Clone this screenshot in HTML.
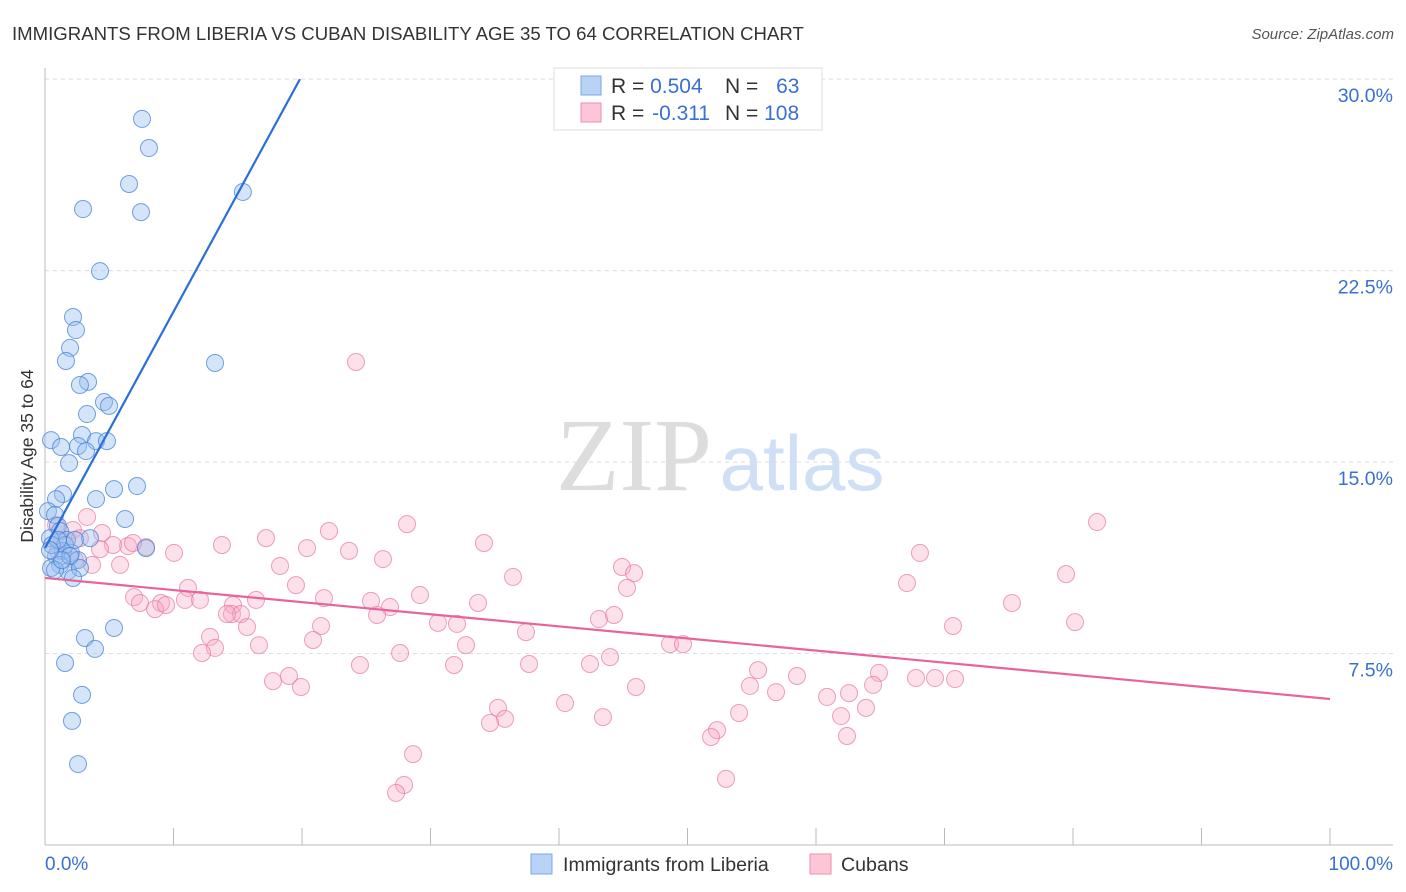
<!DOCTYPE html>
<html><head><meta charset="utf-8"><style>
body{margin:0;background:#fff;font-family:"Liberation Sans",sans-serif;}
svg{display:block}
</style></head><body>
<svg id="chart" width="1406" height="892" xmlns="http://www.w3.org/2000/svg" font-family="Liberation Sans, sans-serif">
<text x="12" y="40" font-size="18.6" fill="#333">IMMIGRANTS FROM LIBERIA VS CUBAN DISABILITY AGE 35 TO 64 CORRELATION CHART</text>
<text x="1394" y="39" font-size="15" fill="#555" font-style="italic" text-anchor="end">Source: ZipAtlas.com</text>
<g>
<text x="634" y="490" font-size="104" fill="#ddd" font-family="Liberation Serif, serif" text-anchor="middle">ZIP</text>
<text x="802" y="490" font-size="78" fill="#cfdff5" text-anchor="middle">atlas</text>
</g>
<g id="grid"></g>
<g id="axes"></g>
<g id="marks"></g>
<text transform="translate(33,456) rotate(-90)" font-size="17.5" fill="#333" text-anchor="middle">Disability Age 35 to 64</text>
<g>
<rect x="554" y="68" width="268" height="62" fill="#fff" stroke="#ddd"/>
<rect x="581" y="76" width="20" height="19" fill="#b8d3f5" stroke="#7aa7e4"/>
<rect x="581" y="103" width="20" height="19" fill="#fcc6d6" stroke="#ea8fae"/>
<text x="611" y="93" font-size="21" fill="#333">R = <tspan fill="#3b6fd4">0.504</tspan></text>
<text x="725" y="93" font-size="21" fill="#333">N = <tspan fill="#3b6fd4" dx="12">63</tspan></text>
<text x="611" y="120" font-size="21" fill="#333">R = <tspan fill="#3b6fd4" dx="2">-0.311</tspan></text>
<text x="725" y="120" font-size="21" fill="#333">N = <tspan fill="#3b6fd4">108</tspan></text>
</g>
<g>
<rect x="531" y="854" width="21" height="20" fill="#b8d3f5" stroke="#7aa7e4"/>
<text x="563" y="871" font-size="19.6" fill="#333">Immigrants from Liberia</text>
<rect x="810" y="854" width="21" height="20" fill="#fcc6d6" stroke="#ea8fae"/>
<text x="841" y="871" font-size="19.6" fill="#333">Cubans</text>
</g>
</svg>
<script>
const yTicks=[7.5,15,22.5,30];
const yTickLabels=["7.5%","15.0%","22.5%","30.0%"];
const xTickLabels=["0.0%","100.0%"];
const blueX=[7.55,8.09,6.54,2.96,7.47,15.4,4.28,2.18,2.41,1.95,1.63,13.23,3.35,2.72,4.59,4.98,3.27,0.47,2.88,1.25,2.57,3.97,4.82,3.19,1.87,1.4,3.97,5.37,7.16,0.86,6.23,0.23,0.78,1.01,1.17,3.5,0.39,1.71,7.86,1.4,2.02,0.86,2.57,1.17,0.47,1.79,2.72,2.18,3.11,5.37,3.89,1.56,2.88,2.1,2.57,0.78,1.56,0.54,1.01,1.95,1.32,0.39,2.33];
const blueY=[28.44,27.3,25.89,24.91,24.79,25.58,22.48,20.68,20.17,19.47,18.96,18.88,18.14,18.02,17.35,17.2,16.88,15.86,16.06,15.59,15.63,15.82,15.82,15.43,14.96,13.75,13.55,13.94,14.06,13.55,12.77,13.08,12.93,12.5,12.3,12.02,12.02,11.95,11.63,11.52,11.44,11.32,11.16,10.97,10.85,10.73,10.85,10.46,8.11,8.5,7.68,7.13,5.88,4.86,3.17,10.77,11.75,11.75,11.95,11.32,11.16,11.55,11.95];
const pinkX=[24.2,81.87,28.17,3.27,22.1,0.86,2.18,4.44,17.2,13.77,20.39,23.66,26.3,34.16,10.04,7.86,6.46,5.29,6.85,4.28,3.66,5.84,18.29,44.9,45.84,36.42,68.09,79.46,67.08,19.53,11.13,6.93,7.39,9.03,8.56,9.42,10.89,12.06,14.63,16.42,14.55,15.25,14.16,15.72,21.71,25.37,26.85,25.84,29.18,33.7,45.29,43.11,44.28,75.25,80.16,70.66,30.58,32.06,37.43,21.48,12.84,20.86,13.23,12.22,16.65,27.63,32.76,48.64,49.65,24.51,31.83,37.67,42.41,43.97,55.49,58.52,64.9,67.78,69.26,70.82,17.74,18.99,19.92,45.99,54.86,56.89,60.86,62.57,64.44,63.89,40.47,35.25,35.8,34.63,43.42,54.01,61.95,52.3,51.83,62.41,28.64,27.94,27.32,53.0,1.32,2.72,2.33,1.01];
const pinkY=[18.92,12.65,12.57,12.85,12.3,12.53,12.34,12.22,12.02,11.75,11.63,11.52,11.2,11.83,11.44,11.67,11.71,11.75,11.83,11.59,10.97,10.97,10.93,10.89,10.65,10.5,11.44,10.61,10.26,10.18,10.07,9.71,9.48,9.48,9.24,9.4,9.6,9.6,9.4,9.6,9.05,9.05,9.05,8.54,9.67,9.56,9.32,9.01,9.79,9.48,10.07,8.85,9.01,9.48,8.73,8.58,8.7,8.66,8.34,8.58,8.15,8.03,7.72,7.52,7.83,7.52,7.83,7.87,7.87,7.05,7.05,7.09,7.09,7.36,6.85,6.62,6.74,6.54,6.54,6.5,6.42,6.62,6.19,6.19,6.23,5.99,5.8,5.95,6.27,5.37,5.56,5.37,4.94,4.78,5.01,5.17,5.05,4.5,4.23,4.27,3.56,2.35,2.04,2.59,11.91,12.02,11.16,11.52];
const blueTrend=[[0,11.63],[19.84,30]];
const pinkTrend=[[0,10.46],[100,5.72]];

const NS="http://www.w3.org/2000/svg";
const X=v=>45+v*12.85;
const Y=v=>845-v*25.53;
function mk(tag,attrs,parent){const e=document.createElementNS(NS,tag);for(const k in attrs)e.setAttribute(k,attrs[k]);parent.appendChild(e);return e;}
const grid=document.getElementById('grid'),axes=document.getElementById('axes'),marks=document.getElementById('marks');
yTicks.forEach((t,i)=>{
  const l=mk('line',{x1:45,x2:1393,y1:Y(t),y2:Y(t),stroke:'#ddd','stroke-dasharray':'4,4'},grid);
  
  
  const tx=mk('text',{x:1393,y:Y(t)+23,'font-size':19.5,fill:'#3b6fd4','text-anchor':'end'},axes);
  tx.textContent=yTickLabels[i];
  
  
});
const xl=mk('line',{x1:45,x2:1393,y1:845,y2:845,stroke:'#bbb'},axes);


const yl=mk('line',{x1:45,x2:45,y1:68,y2:845,stroke:'#bbb'},axes);


for(let i=1;i<=10;i++){
  const t=mk('line',{x1:X(i*10),x2:X(i*10),y1:828,y2:845,stroke:'#bbb'},axes);
  
  
}
[[0,'start',45],[100,'end',1393]].forEach((d,i)=>{
  const tx=mk('text',{x:d[2],y:870,'font-size':19,fill:'#3b6fd4','text-anchor':d[1]},axes);
  tx.textContent=xTickLabels[i];
  
  
});
pinkX.forEach((v,i)=>{
  const c=mk('circle',{cx:X(v),cy:Y(pinkY[i]),r:8.5,fill:'rgba(248,170,195,0.35)',stroke:'rgba(230,120,160,0.7)','stroke-width':1},marks);
  
  
});
blueX.forEach((v,i)=>{
  const c=mk('circle',{cx:X(v),cy:Y(blueY[i]),r:8.5,fill:'rgba(150,190,240,0.4)',stroke:'rgba(70,130,215,0.75)','stroke-width':1},marks);
  
  
});
const bl=mk('line',{x1:X(blueTrend[0][0]),y1:Y(blueTrend[0][1]),x2:X(blueTrend[1][0]),y2:Y(blueTrend[1][1]),stroke:'#2b6fd6','stroke-width':2.2},marks);


const pl=mk('line',{x1:X(pinkTrend[0][0]),y1:Y(pinkTrend[0][1]),x2:X(pinkTrend[1][0]),y2:Y(pinkTrend[1][1]),stroke:'#e8639a','stroke-width':2.2},marks);


</script>
</body></html>
